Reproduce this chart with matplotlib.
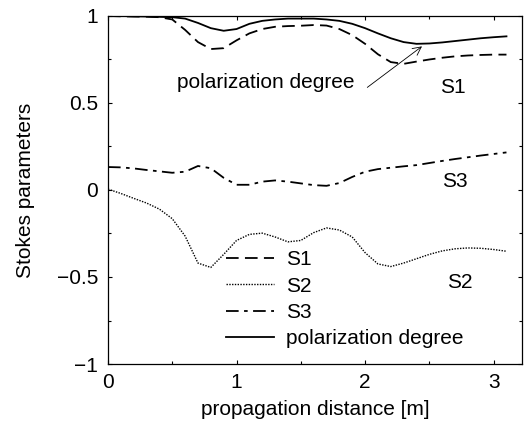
import matplotlib
matplotlib.use('Agg')
import matplotlib.pyplot as plt
from matplotlib.ticker import MultipleLocator

# ============================================================
# DATA
# ============================================================

distance = [0.0, 0.1, 0.2, 0.3, 0.4, 0.5, 0.6, 0.7, 0.8, 0.9,
            1.0, 1.1, 1.2, 1.3, 1.4, 1.5, 1.6, 1.7, 1.8, 1.9,
            2.0, 2.1, 2.2, 2.3, 2.4, 2.5, 2.6, 2.7, 2.8, 2.9,
            3.0, 3.1]

s1 = [1.000, 0.998, 0.997, 0.996, 0.993, 0.980, 0.920, 0.850, 0.810, 0.815,
      0.860, 0.900, 0.925, 0.938, 0.942, 0.944, 0.948, 0.945, 0.925, 0.890,
      0.840, 0.780, 0.735, 0.725, 0.738, 0.750, 0.760, 0.768, 0.773, 0.776,
      0.778, 0.778]

s2 = [0.005, -0.020, -0.048, -0.075, -0.110, -0.165, -0.265, -0.420, -0.445, -0.370,
      -0.290, -0.255, -0.248, -0.270, -0.298, -0.290, -0.245, -0.218, -0.230, -0.270,
      -0.360, -0.425, -0.440, -0.420, -0.395, -0.370, -0.350, -0.338, -0.333, -0.335,
      -0.342, -0.352]

s3 = [0.132, 0.130, 0.124, 0.115, 0.107, 0.099, 0.105, 0.138, 0.125, 0.070,
      0.030, 0.030, 0.048, 0.055, 0.048, 0.038, 0.028, 0.024, 0.040, 0.075,
      0.105, 0.120, 0.128, 0.136, 0.143, 0.155, 0.167, 0.178, 0.188, 0.198,
      0.207, 0.216]

pol_degree = [1.000, 1.000, 0.998, 0.997, 0.995, 0.993, 0.985, 0.960, 0.930, 0.915,
              0.925, 0.955, 0.972, 0.980, 0.985, 0.985, 0.985, 0.980, 0.972, 0.955,
              0.930, 0.900, 0.872, 0.850, 0.840, 0.842, 0.848, 0.856, 0.864, 0.872,
              0.878, 0.883]

ytick_vals   = [-1, -0.5, 0, 0.5, 1]
ytick_labels = ['\u22121', '\u22120.5', '0', '0.5', '1']

# ============================================================
# PLOT
# ============================================================

plt.rcParams['font.family'] = ['Liberation Sans', 'DejaVu Sans']
plt.rcParams['font.size'] = 15

fig = plt.figure(figsize=(5.32, 4.24), dpi=100)
ax = fig.add_axes([0.203, 0.1415, 0.778, 0.8208])

lw = 1.3
ax.plot(distance, s1, color='black', lw=lw, dashes=(7, 3.5), label='S1')
ax.plot(distance, s2, color='black', lw=1.0, dashes=(1, 1), label='S2')
ax.plot(distance, s3, color='black', lw=lw, dashes=(7, 3, 2, 3), label='S3')
ax.plot(distance, pol_degree, color='black', lw=lw, label='polarization degree')

ax.set_xlim(0, 3.22)
ax.set_ylim(-1, 1)
ax.xaxis.set_major_locator(MultipleLocator(1))
ax.xaxis.set_minor_locator(MultipleLocator(0.5))
ax.yaxis.set_minor_locator(MultipleLocator(0.25))
ax.set_yticks(ytick_vals)
ax.set_yticklabels(ytick_labels)
ax.tick_params(which='both', direction='in', top=True, right=True, width=0.8)
ax.tick_params(which='major', length=3.2)
ax.tick_params(which='minor', length=2.4)
ax.tick_params(axis='x', pad=6.5)
ax.tick_params(axis='y', pad=7)
for sp in ax.spines.values():
    sp.set_linewidth(0.9)

ax.set_xlabel('propagation distance [m]', labelpad=6)
ax.set_ylabel('Stokes parameters', labelpad=16)

# curve labels
ax.text(2.68, 0.59, 'S1', ha='center', va='center')
ax.text(2.70, 0.05, 'S3', ha='center', va='center')
ax.text(2.74, -0.53, 'S2', ha='center', va='center')
ax.text(1.23, 0.62, 'polarization degree', ha='center', va='center')
ax.annotate('', xy=(2.46, 0.835), xytext=(2.0, 0.58),
            arrowprops=dict(arrowstyle='->', color='black', lw=0.6))

ax.legend(loc='lower left', bbox_to_anchor=(0.285, 0.045), frameon=False,
          borderpad=0, borderaxespad=0, handlelength=2.3,
          handletextpad=0.6, labelspacing=0.35)

fig.savefig('out.png', dpi=100)
